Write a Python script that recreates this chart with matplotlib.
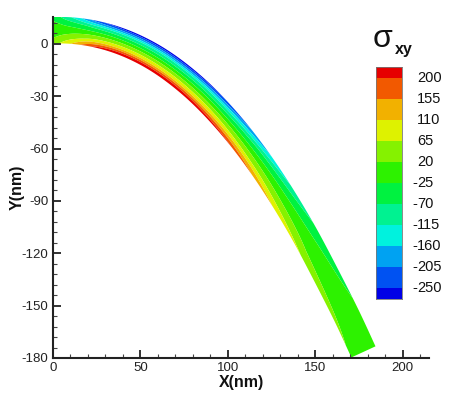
import numpy as np
import matplotlib
matplotlib.use("Agg")
import matplotlib.pyplot as plt
from matplotlib.ticker import MultipleLocator

plt.rcParams['font.family'] = ['Liberation Sans', 'DejaVu Sans']
plt.rcParams['axes.unicode_minus'] = False

# ---- data ----
center_x = [0, 12, 24, 36, 48, 60, 72, 84, 96, 108, 120, 132, 144, 156, 168, 177.5]
center_y = [8.0, 7.5, 5.7, 2.4, -2.5, -9.1, -17.6, -27.9, -40.2, -54.4, -70.7,
            -89.1, -109.5, -132.2, -156.0, -176.5]
half_thickness = 7.6
thickness_pos = [-1.0, -0.5, 0.0, 0.5, 1.0]   # inner edge -> outer edge
sigma_xy = [
    [40, 15, 0, -15, -40],
    [120, 45, 0, -50, -130],
    [210, 80, 0, -85, -230],
    [250, 95, 0, -100, -275],
    [260, 100, 0, -105, -285],
    [260, 100, 0, -105, -285],
    [260, 100, 0, -105, -285],
    [250, 95, 0, -100, -270],
    [230, 90, 0, -95, -245],
    [200, 75, 0, -80, -205],
    [155, 60, 0, -60, -155],
    [110, 40, 0, -45, -105],
    [75, 25, 0, -30, -65],
    [50, 12, 0, -15, -40],
    [30, 5, 0, -8, -20],
    [15, 2, 0, -4, -10],
]
levels = [-250, -205, -160, -115, -70, -25, 20, 65, 110, 155, 200]
band_colors = ['#0000E6', '#0052F2', '#00A2F2', '#00F2DE', '#00F291', '#00F240',
               '#2DF200', '#85F200', '#DEF200', '#F2B100', '#F25900', '#E60000']
x_ticks = [0, 50, 100, 150, 200]
y_ticks = [-180, -150, -120, -90, -60, -30, 0]

W, H = 451, 394
fig = plt.figure(figsize=(W / 100, H / 100), dpi=100)

def fx(px):
    return px / W

def fy(py):
    return 1 - py / H

def smooth_rows(p, n_fine):
    """Catmull-Rom resampling of station rows, for smooth rendering only."""
    p = np.asarray(p, dtype=float)
    n = len(p)
    t = np.linspace(0, n - 1, n_fine)
    i = np.clip(np.floor(t).astype(int), 0, n - 2)
    u = (t - i).reshape((-1,) + (1,) * (p.ndim - 1))
    p0 = p[np.clip(i - 1, 0, n - 1)]
    p1 = p[i]
    p2 = p[np.clip(i + 1, 0, n - 1)]
    p3 = p[np.clip(i + 2, 0, n - 1)]
    return 0.5 * (2 * p1 + (-p0 + p2) * u + (2 * p0 - 5 * p1 + 4 * p2 - p3) * u ** 2
                  + (-p0 + 3 * p1 - 3 * p2 + p3) * u ** 3)

ax = fig.add_axes([fx(53), fy(358), fx(429) - fx(53), fy(17) - fy(358)])

n_fine = 300
cx = smooth_rows(center_x, n_fine)
cy = smooth_rows(center_y, n_fine)
S_rows = smooth_rows(sigma_xy, n_fine)
s_fine = np.linspace(-1, 1, 41)
S = np.array([np.interp(s_fine, thickness_pos, row) for row in S_rows])

tx = np.gradient(cx)
ty = np.gradient(cy)
tl = np.hypot(tx, ty)
nx, ny = -ty / tl, tx / tl
X = cx[:, None] + s_fine[None, :] * half_thickness * nx[:, None]
Y = cy[:, None] + s_fine[None, :] * half_thickness * ny[:, None]

all_levels = [-1e4] + levels + [1e4]
ax.contourf(X, Y, S, levels=all_levels, colors=band_colors, antialiased=True)

ax.set_xlim(0, 215)
ax.set_ylim(-180, 15.4)
for side in ('top', 'right'):
    ax.spines[side].set_visible(False)
for side in ('left', 'bottom'):
    ax.spines[side].set_linewidth(1.5)
    ax.spines[side].set_color('#222222')
ax.set_xticks(x_ticks)
ax.set_yticks(y_ticks)
ax.xaxis.set_minor_locator(MultipleLocator(10))
ax.yaxis.set_minor_locator(MultipleLocator(6))
ax.tick_params(which='major', direction='in', length=6, width=1.3, color='#222222',
               labelsize=9.5, labelcolor='#222222')
ax.tick_params(axis='x', which='major', pad=3)
ax.tick_params(axis='y', which='major', pad=3.5)
ax.tick_params(which='minor', direction='in', length=3, width=0.8, color='#444444')

fig.text(fx(241), fy(382), 'X(nm)', ha='center', va='center', fontsize=11.5,
         fontweight='bold', color='#111111')
fig.text(fx(17), fy(187), 'Y(nm)', ha='center', va='center', rotation=90,
         fontsize=11.5, fontweight='bold', color='#111111')

# ---- colour legend ----
cax = fig.add_axes([fx(376), fy(299), fx(402) - fx(376), fy(67) - fy(299)])
step = levels[1] - levels[0]
bounds = np.array([levels[0] - step / 2] + levels + [levels[-1] + step / 2])
cax.bar(0.5, np.diff(bounds), bottom=bounds[:-1], width=1.0, color=band_colors,
        edgecolor='none')
cax.set_xlim(0, 1)
cax.set_ylim(bounds[0], bounds[-1])
cax.set_xticks([])
cax.set_yticks([])
for sp in cax.spines.values():
    sp.set_linewidth(0.6)
    sp.set_color('#777777')

trans = cax.get_yaxis_transform()
x_dig = (417 - 376) / (402 - 376)
for lv in levels:
    digits = str(abs(lv))
    cax.text(x_dig, lv, digits, transform=trans, ha='left', va='center',
             fontsize=10.5, color='#111111', clip_on=False)
    if lv < 0:
        cax.text(x_dig, lv, '-', transform=trans, ha='right', va='center',
                 fontsize=10.5, color='#111111', clip_on=False)

fig.text(fx(373), fy(47), 'σ', ha='left', va='baseline', fontsize=23,
         color='#111111')
fig.text(fx(395), fy(54), 'xy', ha='left', va='baseline', fontsize=11.5,
         fontweight='bold', color='#111111')

fig.savefig('out.png', dpi=100)
